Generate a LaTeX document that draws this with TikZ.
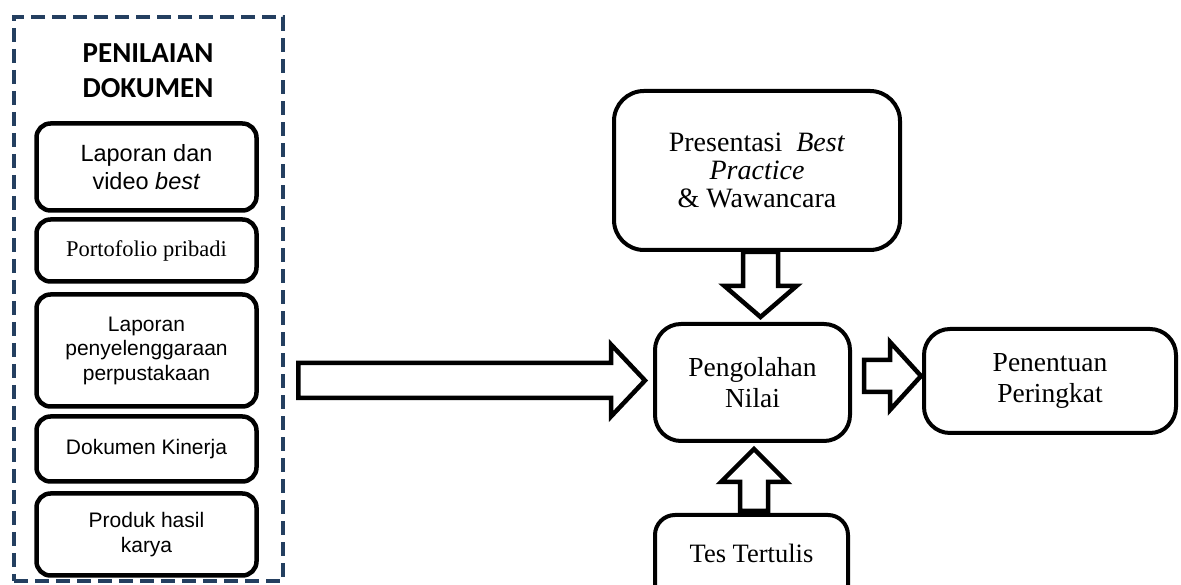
\documentclass[tikz,border=0pt]{standalone}
\usepackage{fontspec}
\setmainfont{Liberation Serif}
\setsansfont{Liberation Sans}
\newfontfamily\judulfont{Carlito}
\usetikzlibrary{calc}
\definecolor{navy}{HTML}{243F60}

\tikzset{
	kotak/.style={draw,line width=4.5pt,rounded corners=14pt,align=center,inner sep=0pt,minimum width=220pt},
	kotakbesar/.style={draw,line width=4pt,rounded corners=26pt,align=center,inner sep=0pt,font=\fontsize{27.5}{31}\selectfont},
	bingkai/.style={draw=navy,line width=4.5pt,dash pattern=on 14pt off 7pt,inner sep=0pt},
	blockarr/.style={draw,line width=4.5pt,fill=white,line join=miter},
}

% start, tip, shaft half width, head half width, head length
\newcommand\fatarrow[5]{%
	\draw[blockarr] let \p1=(#1), \p2=(#2),
		\n1={atan2(\y2-\y1,\x2-\x1)}, \n2={veclen(\x2-\x1,\y2-\y1)} in
		($(\p1)+(\n1+90:#3)$) -- ++(\n1:\n2-#5) -- ++(\n1+90:#4-#3) -- (\p2)
		-- ($(\p2)+(\n1:-#5)+(\n1-90:#4)$) -- ++(\n1+90:#4-#3) -- ++(\n1:#5-\n2) -- cycle;}

\begin{document}
\begin{tikzpicture}[x=1pt,y=1pt]
	\useasboundingbox (0,0) rectangle (1181,585);
	\clip (0,0) rectangle (1181,585);

	\node[bingkai,minimum width=269pt,minimum height=564pt] (dok) at (148.5,286) {};
	\node[align=center,font=\judulfont\bfseries\fontsize{29}{35}\selectfont] (judul) at (148,514.5) {PENILAIAN\\DOKUMEN};

	\node[kotak,minimum height=87pt,font=\sffamily\fontsize{23.5}{28}\selectfont] (lap) at (146.5,418) {Laporan dan\\video \textit{best}};
	\node[kotak,minimum height=62pt,font=\fontsize{22.5}{26}\selectfont] (porto) at (146.5,334.5) {Portofolio pribadi};
	\node[kotak,minimum height=112pt,font=\sffamily\fontsize{21}{24.5}\selectfont] (perpus) at (146.5,234.5) {Laporan\\penyelenggaraan\\perpustakaan};
	\node[kotak,minimum height=65pt,font=\sffamily\fontsize{21}{24.5}\selectfont] (kinerja) at (146.5,136) {Dokumen Kinerja};
	\node[kotak,minimum height=82pt,font=\sffamily\fontsize{21}{25}\selectfont] (produk) at (146.5,50.5) {Produk hasil\\karya};

	\node[kotakbesar,minimum width=286pt,minimum height=159pt,rounded corners=30pt,font=\fontsize{28}{28}\selectfont] (pres) at (757,414.5) {Presentasi \ \textit{Best}\\\textit{Practice}\\\& Wawancara};
	\node[kotakbesar,minimum width=195pt,minimum height=117pt] (nilai) at (752.5,202.5) {Pengolahan\\Nilai};
	\node[kotakbesar,minimum width=252pt,minimum height=104pt] (tentu) at (1050,204) {Penentuan\\Peringkat};
	\node[kotakbesar,minimum width=193pt,minimum height=90pt,rounded corners=20pt,text depth=14pt,font=\fontsize{26.5}{30}\selectfont] (tes) at (751.5,25) {Tes Tertulis};

	\fatarrow{$(dok.east |- nilai.west)+(13,2)$}{$(nilai.west)+(-8,2)$}{17.5}{36}{34}
	\fatarrow{$(pres.south)+(3.5,0)$}{$(pres.south |- nilai.north)+(3.5,5)$}{17.5}{36}{31}
	\fatarrow{$(nilai.east)+(12,6.5)$}{$(tentu.west |- nilai.east)+(-1,6.5)$}{16}{34}{31}
	\fatarrow{$(tes.north)+(2.5,2)$}{$(nilai.south)+(1.5,-6)$}{14}{33}{33}
\end{tikzpicture}
\end{document}
